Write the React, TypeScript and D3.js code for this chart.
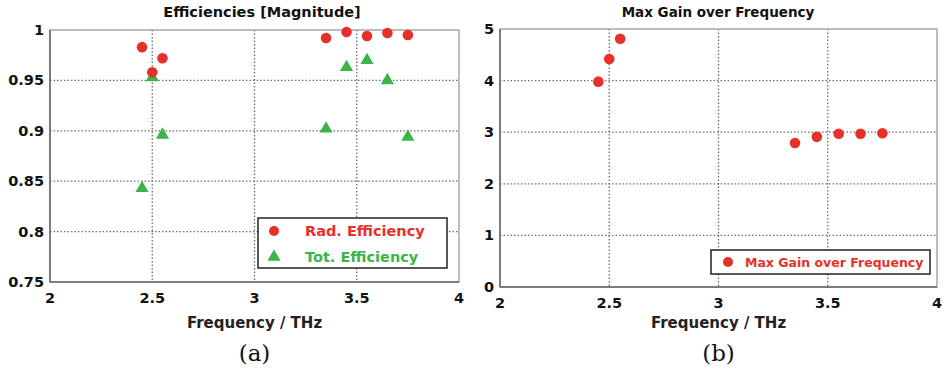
import React, { useEffect, useRef } from 'react';
import * as d3 from 'd3';

// frequencies (THz)
const freqs = [2.45, 2.5, 2.55, 3.35, 3.45, 3.55, 3.65, 3.75];
// left panel
const radEfficiency = [0.983, 0.958, 0.972, 0.992, 0.998, 0.994, 0.997, 0.995];
const totEfficiency = [0.843, 0.953, 0.896, 0.902, 0.963, 0.970, 0.950, 0.894];
const effTicks = [0.75, 0.8, 0.85, 0.9, 0.95, 1];
// right panel
const maxGain = [3.98, 4.42, 4.81, 2.79, 2.91, 2.97, 2.97, 2.98];
const gainTicks = [0, 1, 2, 3, 4, 5];
const freqTicks = [2, 2.5, 3, 3.5, 4];

const RED = '#e8302a';
const GREEN = '#3cb44b';
const FONT = '"DejaVu Sans", Verdana, sans-serif';

const W = 944;
const H = 372;

type Panel = {
    left: number; right: number; top: number; bottom: number;
    yDomain: [number, number];
    yTicks: number[];
    title: string;
    titleX: number;
    titleSize: number;
    caption: string;
};

const App = () => {
    const svgRef = useRef<SVGSVGElement>(null);

    useEffect(() => {
        const svg = d3.select(svgRef.current);
        svg.selectAll('*').remove();

        const drawFrame = (p: Panel) => {
            const x = d3.scaleLinear().domain([2, 4]).range([p.left, p.right]);
            const y = d3.scaleLinear().domain(p.yDomain).range([p.bottom, p.top]);
            const g = svg.append('g');

            // grid
            g.selectAll('.vgrid')
                .data(freqTicks.slice(1, -1))
                .enter().append('line')
                .attr('x1', d => x(d)).attr('x2', d => x(d))
                .attr('y1', p.top).attr('y2', p.bottom)
                .attr('stroke', '#6e6e6e').attr('stroke-width', 1.3)
                .attr('stroke-dasharray', '1.5,2');
            g.selectAll('.hgrid')
                .data(p.yTicks.slice(1, -1))
                .enter().append('line')
                .attr('x1', p.left).attr('x2', p.right)
                .attr('y1', d => y(d)).attr('y2', d => y(d))
                .attr('stroke', '#6e6e6e').attr('stroke-width', 1.3)
                .attr('stroke-dasharray', '1.5,2');

            // frame
            g.append('rect')
                .attr('x', p.left).attr('y', p.top)
                .attr('width', p.right - p.left).attr('height', p.bottom - p.top)
                .attr('fill', 'none').attr('stroke', '#a8a8a8').attr('stroke-width', 1.5);
            g.append('line')
                .attr('x1', p.left).attr('x2', p.right)
                .attr('y1', p.bottom).attr('y2', p.bottom)
                .attr('stroke', '#666').attr('stroke-width', 1.5);
            g.append('line')
                .attr('x1', p.left).attr('x2', p.left)
                .attr('y1', p.top).attr('y2', p.bottom)
                .attr('stroke', '#666').attr('stroke-width', 1.5);

            // tick labels
            g.selectAll('.xt')
                .data(freqTicks)
                .enter().append('text')
                .attr('x', d => x(d)).attr('y', p.bottom + 21)
                .attr('text-anchor', 'middle')
                .attr('font-family', FONT).attr('font-weight', 'bold').attr('font-size', 14.5)
                .attr('fill', '#111')
                .text(d => String(d));
            g.selectAll('.yt')
                .data(p.yTicks)
                .enter().append('text')
                .attr('x', p.left - 6).attr('y', d => y(d) + 5)
                .attr('text-anchor', 'end')
                .attr('font-family', FONT).attr('font-weight', 'bold').attr('font-size', 14.5)
                .attr('fill', '#111')
                .text(d => String(d));

            // titles
            const cx = (p.left + p.right) / 2;
            g.append('text')
                .attr('x', p.titleX).attr('y', 17)
                .attr('text-anchor', 'middle')
                .attr('font-family', FONT).attr('font-weight', 'bold').attr('font-size', p.titleSize)
                .attr('fill', '#111')
                .text(p.title);
            g.append('text')
                .attr('x', cx).attr('y', 328)
                .attr('text-anchor', 'middle')
                .attr('font-family', FONT).attr('font-weight', 'bold').attr('font-size', 15)
                .attr('fill', '#222')
                .text('Frequency / THz');
            g.append('text')
                .attr('x', cx).attr('y', 361)
                .attr('text-anchor', 'middle')
                .attr('font-family', '"DejaVu Serif", "Liberation Serif", serif').attr('font-size', 23)
                .attr('fill', '#111')
                .text(p.caption);

            return { x, y, g };
        };

        const triangle = d3.symbol().type(d3.symbolTriangle).size(75);

        // (a) efficiencies
        const a = drawFrame({
            left: 50, right: 459, top: 30, bottom: 282,
            yDomain: [0.75, 1], yTicks: effTicks,
            title: 'Efficiencies [Magnitude]', titleX: 262, titleSize: 14.5, caption: '(a)'
        });
        a.g.selectAll('.tot')
            .data(freqs)
            .enter().append('path')
            .attr('d', triangle)
            .attr('transform', (d, i) => `translate(${a.x(d)},${a.y(totEfficiency[i])})`)
            .attr('fill', GREEN);
        a.g.selectAll('.rad')
            .data(freqs)
            .enter().append('circle')
            .attr('cx', d => a.x(d))
            .attr('cy', (d, i) => a.y(radEfficiency[i]))
            .attr('r', 5.3)
            .attr('fill', RED);

        // legend (a)
        const la = a.g.append('g');
        la.append('rect')
            .attr('x', 258).attr('y', 218).attr('width', 189).attr('height', 50)
            .attr('fill', '#fff').attr('stroke', '#222').attr('stroke-width', 1.5);
        la.append('circle').attr('cx', 274).attr('cy', 231).attr('r', 5).attr('fill', RED);
        la.append('path').attr('d', triangle)
            .attr('transform', 'translate(274,257)').attr('fill', GREEN);
        la.append('text')
            .attr('x', 305).attr('y', 236)
            .attr('font-family', FONT).attr('font-weight', 'bold').attr('font-size', 14.5)
            .attr('fill', RED).text('Rad. Efficiency');
        la.append('text')
            .attr('x', 305).attr('y', 262)
            .attr('font-family', FONT).attr('font-weight', 'bold').attr('font-size', 14.5)
            .attr('fill', GREEN).text('Tot. Efficiency');

        // (b) max gain
        const b = drawFrame({
            left: 500, right: 937, top: 29, bottom: 287,
            yDomain: [0, 5], yTicks: gainTicks,
            title: 'Max Gain over Frequency', titleX: 718, titleSize: 13.5, caption: '(b)'
        });
        b.g.selectAll('.gain')
            .data(freqs)
            .enter().append('circle')
            .attr('cx', d => b.x(d))
            .attr('cy', (d, i) => b.y(maxGain[i]))
            .attr('r', 5.3)
            .attr('fill', RED);

        // legend (b)
        const lb = b.g.append('g');
        lb.append('rect')
            .attr('x', 711).attr('y', 250).attr('width', 219).attr('height', 24)
            .attr('fill', '#fff').attr('stroke', '#222').attr('stroke-width', 1.5);
        lb.append('circle').attr('cx', 728).attr('cy', 262).attr('r', 5).attr('fill', RED);
        lb.append('text')
            .attr('x', 745).attr('y', 267)
            .attr('font-family', FONT).attr('font-weight', 'bold').attr('font-size', 12.5)
            .attr('fill', RED).text('Max Gain over Frequency');
    }, []);

    return (
        <svg
            ref={svgRef}
            width={W}
            height={H}
            style={{ position: 'absolute', left: 0, top: 0, background: '#fff' }}
        />
    );
};

export default App;
